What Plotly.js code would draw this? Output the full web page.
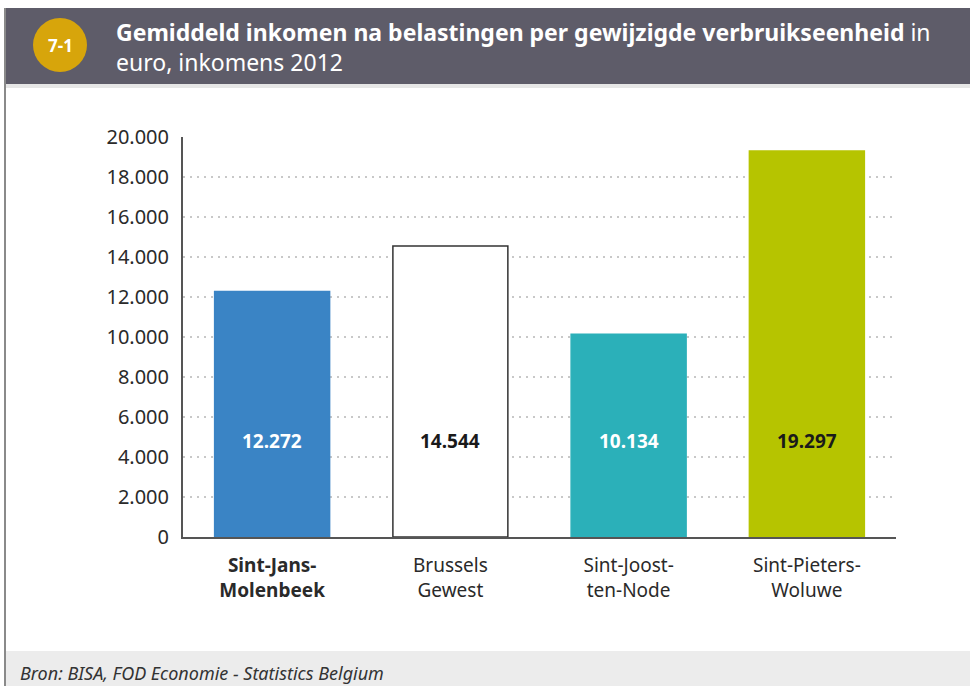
<!DOCTYPE html>
<html>
<head>
<meta charset="utf-8">
<script src="https://cdn.plot.ly/plotly-3.0.1.min.js"></script>
<style>html,body{margin:0;padding:0;background:#fff;}#chart{width:970px;height:686px;}</style>
</head>
<body>
<div id="chart"></div>
<script>
// ---- data ----
const categories = ["<b>Sint-Jans-<br>Molenbeek</b>", "Brussels<br>Gewest", "Sint-Joost-<br>ten-Node", "Sint-Pieters-<br>Woluwe"];
const values = [12272, 14544, 10134, 19297];
const valueLabels = ["12.272", "14.544", "10.134", "19.297"];
const yTickVals = [0, 2000, 4000, 6000, 8000, 10000, 12000, 14000, 16000, 18000, 20000];
const yTickText = ["0", "2.000", "4.000", "6.000", "8.000", "10.000", "12.000", "14.000", "16.000", "18.000", "20.000"];
const barColors = ["#3a84c5", "#ffffff", "#2bb0b9", "#b6c400"];
const lineColors = ["#3a84c5", "#333333", "#2bb0b9", "#b6c400"];
const labelColors = ["#ffffff", "#1a1a1a", "#ffffff", "#1a1a1a"];

// ---- geometry helpers (pixel -> paper) ----
const W = 970, H = 686;
const L = 183, R = 896, T = 137, B = 537;
const px = x => (x - L) / (R - L);
const py = y => (B - y) / (B - T);

const FONT = "Noto Sans, Open Sans, sans-serif";

const trace = {
  type: "bar",
  x: [0, 1, 2, 3],
  y: values,
  width: 0.645,
  marker: {color: barColors, line: {color: lineColors, width: 1.5}},
  hoverinfo: "skip"
};

const annotations = values.map((v, i) => ({
  x: i, xref: "x", y: py(441), yref: "paper",
  text: "<b>" + valueLabels[i] + "</b>", showarrow: false,
  font: {family: FONT, size: 19, color: labelColors[i]},
  xanchor: "center", yanchor: "middle"
}));
annotations.push({
  x: px(60), xref: "paper", y: py(45), yref: "paper",
  text: "<b>7-1</b>", showarrow: false,
  font: {family: FONT, size: 17, color: "#ffffff"},
  xanchor: "center", yanchor: "middle"
});
annotations.push({
  x: px(114), xref: "paper", y: py(14), yref: "paper",
  text: "<b>Gemiddeld inkomen na belastingen per gewijzigde verbruikseenheid</b> in<br>euro, inkomens 2012",
  showarrow: false, align: "left",
  font: {family: FONT, size: 23, color: "#ffffff"},
  xanchor: "left", yanchor: "top"
});
annotations.push({
  x: px(18), xref: "paper", y: py(673), yref: "paper",
  text: "<i>Bron: BISA, FOD Economie - Statistics Belgium</i>", showarrow: false,
  font: {family: FONT, size: 18, color: "#333333"},
  xanchor: "left", yanchor: "middle"
});

const shapes = [
  {type: "rect", xref: "paper", yref: "paper", x0: px(5), x1: px(975), y0: py(8), y1: py(84),
   fillcolor: "#5e5c69", line: {width: 0}, layer: "below"},
  {type: "rect", xref: "paper", yref: "paper", x0: px(5), x1: px(975), y0: py(84), y1: py(88),
   fillcolor: "#e6e6e6", line: {width: 0}, layer: "below"},
  {type: "rect", xref: "paper", yref: "paper", x0: px(5), x1: px(975), y0: py(651), y1: py(690),
   fillcolor: "#ececec", line: {width: 0}, layer: "below"},
  {type: "line", xref: "paper", yref: "paper", x0: px(5), x1: px(5), y0: py(8), y1: py(690),
   line: {color: "#8a8a8a", width: 2}},
  {type: "circle", xref: "paper", yref: "paper", x0: px(33), x1: px(87), y0: py(18), y1: py(72),
   fillcolor: "#d7a50b", line: {width: 0}}
];

const layout = {
  width: W, height: H,
  margin: {l: L, r: W - R, t: T, b: H - B},
  paper_bgcolor: "#ffffff", plot_bgcolor: "#ffffff",
  showlegend: false,
  xaxis: {
    range: [-0.5, 3.5], tickvals: [0, 1, 2, 3], ticktext: categories,
    showgrid: false, zeroline: false, showline: true, linecolor: "#555555", linewidth: 2,
    ticks: "outside", ticklen: 10, tickcolor: "rgba(0,0,0,0)",
    tickfont: {family: FONT, size: 19, color: "#2a2a2a"}, fixedrange: true
  },
  yaxis: {
    range: [0, 20000], tickvals: yTickVals, ticktext: yTickText,
    showgrid: true, gridcolor: "#c8c8c8", griddash: "2px,5px", gridwidth: 2,
    zeroline: false, showline: true, linecolor: "#555555", linewidth: 2,
    ticks: "outside", ticklen: 8, tickcolor: "rgba(0,0,0,0)",
    tickfont: {family: FONT, size: 20, color: "#2a2a2a"}, fixedrange: true
  },
  annotations: annotations,
  shapes: shapes
};

Plotly.newPlot("chart", [trace], layout, {displayModeBar: false, staticPlot: true});
</script>
</body>
</html>
